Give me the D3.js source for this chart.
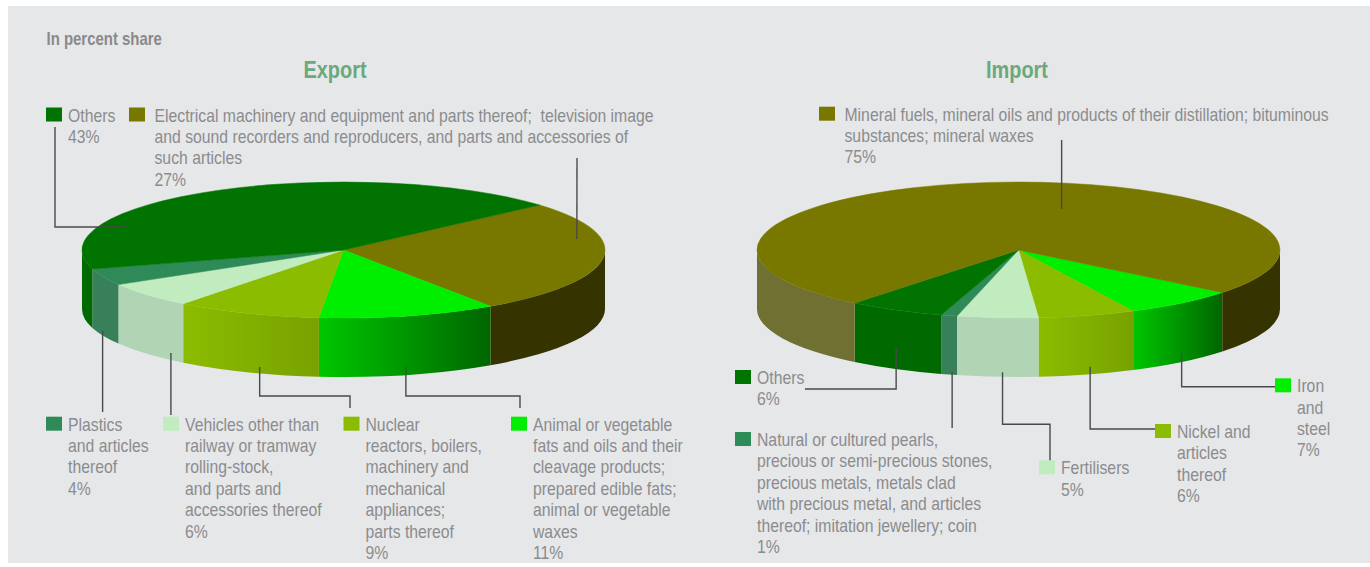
<!DOCTYPE html>
<html>
<head>
<meta charset="utf-8">
<script src="https://cdn.jsdelivr.net/npm/d3@7"></script>
<style>
  html, body { margin: 0; padding: 0; background: #ffffff; }
  svg { display: block; }
  svg text { white-space: pre; }
</style>
</head>
<body>
<svg id="chart" width="1370" height="567"></svg>
<script>
// ---- Data (shares in percent, listed clockwise around each pie) ----
const exportKeys = ["electrical", "animal", "nuclear", "vehicles", "plastics", "others"];
const exportValues = [27, 11, 9, 6, 4, 43];
const exportLabels = [
  ["Electrical machinery and equipment and parts thereof;  television image",
   "and sound recorders and reproducers, and parts and accessories of",
   "such articles"],
  ["Animal or vegetable", "fats and oils and their", "cleavage products;",
   "prepared edible fats;", "animal or vegetable", "waxes"],
  ["Nuclear", "reactors, boilers,", "machinery and", "mechanical", "appliances;", "parts thereof"],
  ["Vehicles other than", "railway or tramway", "rolling-stock,", "and parts and", "accessories thereof"],
  ["Plastics", "and articles", "thereof"],
  ["Others"]
];

const importKeys = ["iron", "nickel", "fertilisers", "pearls", "others", "mineral"];
const importValues = [7, 6, 5, 1, 6, 75];
const importLabels = [
  ["Iron", "and", "steel"],
  ["Nickel and", "articles", "thereof"],
  ["Fertilisers"],
  ["Natural or cultured pearls,", "precious or semi-precious stones,", "precious metals, metals clad",
   "with precious metal, and articles", "thereof; imitation jewellery; coin"],
  ["Others"],
  ["Mineral fuels, mineral oils and products of their distillation; bituminous",
   "substances; mineral waxes"]
];

const titles = ["Export", "Import"];
const subtitle = "In percent share";

// ---- Styles ----
const palette = {
  others:      { top: "#007300", side: ["#006a00", "#006a00"] },
  electrical:  { top: "#787800", side: ["#353300", "#353300"], sideLeft: ["#6f7032", "#6f7032"] },
  mineral:     { top: "#787800", side: ["#353300", "#353300"], sideLeft: ["#6f7032", "#6f7032"] },
  animal:      { top: "#00ee00", side: ["#00c600", "#006600"] },
  iron:        { top: "#00ee00", side: ["#00c600", "#006600"] },
  nuclear:     { top: "#8cbc00", side: ["#8cbc00", "#78a200"] },
  nickel:      { top: "#8cbc00", side: ["#8cbc00", "#78a200"] },
  vehicles:    { top: "#c0ecc0", side: ["#b0d4b4", "#b0d4b4"] },
  fertilisers: { top: "#c0ecc0", side: ["#b0d4b4", "#b0d4b4"] },
  plastics:    { top: "#2e8b57", side: ["#38805a", "#38805a"] },
  pearls:      { top: "#2e8b57", side: ["#38805a", "#38805a"] }
};

const textColor = "#8b8c8e";
const titleColor = "#6aa97b";
const leaderColor = "#4a4a4a";

// ---- Font choice: a condensed sans if installed, else a narrowed regular sans ----
function fontInstalled(name) {
  const ctx = document.createElement("canvas").getContext("2d");
  const s = "Others mmmwwwiiilll 0123456789";
  let differs = false;
  ["monospace", "serif"].forEach(fb => {
    ctx.font = "40px " + fb;
    const a = ctx.measureText(s).width;
    ctx.font = "40px '" + name + "', " + fb;
    const b = ctx.measureText(s).width;
    if (Math.abs(a - b) > 0.5) differs = true;
  });
  return differs;
}
const narrow = fontInstalled("Liberation Sans Narrow");
const fontFamily = narrow ? "'Liberation Sans Narrow', 'Arial Narrow', sans-serif"
                          : "'Liberation Sans', Arial, sans-serif";
const squeeze = narrow ? 1 : 0.83;

// ---- Layout ----
const W = 1370, H = 567;
const svg = d3.select("#chart");
const defs = svg.append("defs");

svg.append("rect").attr("x", 8).attr("y", 6).attr("width", W - 8).attr("height", 557)
  .attr("fill", "#e6e7e9");

const lineH = 21.4;

function textBlock(x, y, lines, opts = {}) {
  const g = svg.append("g")
    .attr("transform", `translate(${x},${y}) scale(${squeeze},1)`);
  const t = g.append("text")
    .attr("font-family", fontFamily)
    .attr("font-size", opts.size || 19)
    .attr("font-weight", opts.weight || "normal")
    .attr("fill", opts.fill || textColor)
    .attr("text-anchor", opts.anchor || "start");
  lines.forEach((ln, i) => {
    t.append("tspan").attr("x", 0).attr("y", i * (opts.lh || lineH)).text(ln);
  });
  return g;
}

// Pie geometry (shared by both pies)
const rx = 261.5, ry = 68, depth = 59, cy = 250;

const pies = [
  {
    keys: exportKeys, values: exportValues, labels: exportLabels, title: titles[0],
    cx: 343.5, titleX: 335, start: 48.6,
    // legend item: square + text position; leader: anchor on the pie then waypoints
    legend: {
      electrical: { x: 129, y: 121.5, anchor: { a: -10.3, r: 0.907, z: 0 }, path: [[577, 158]] },
      others:     { x: 46,  y: 121.5, anchor: { a: 202, r: 0.9, z: 0 }, path: [[55, 227], [55, 127]] },
      plastics:   { x: 46,  y: 430.7, anchor: { a: 157.1, r: 1, z: 0.92 }, path: [[null, 412]] },
      vehicles:   { x: 163, y: 430.7, anchor: { a: 131.3, r: 1, z: 0.88 }, path: [[null, 415]] },
      nuclear:    { x: 343.5, y: 430.7, anchor: { a: 108.7, r: 1, z: 0.89 }, path: [[null, 396], [350, 396], [350, 408]] },
      animal:     { x: 511, y: 430.7, anchor: { a: 76.2, r: 1, z: 0.86 }, path: [[null, 396], [520, 396], [520, 408]] }
    }
  },
  {
    keys: importKeys, values: importValues, labels: importLabels, title: titles[1],
    cx: 1018.5, titleX: 1017, start: 128.8,
    legend: {
      mineral:     { x: 819, y: 120.7, anchor: { a: -74.7, r: 0.625, z: 0 }, path: [[null, 140]] },
      others:      { x: 735, y: 384, anchor: { a: 117.9, r: 1, z: 0.63 }, path: [[null, 389], [805, 389]] },
      pearls:      { x: 735, y: 446, anchor: { a: 104.7, r: 1, z: 0.95 }, path: [[null, 428]] },
      fertilisers: { x: 1039, y: 474.3, anchor: { a: 93.5, r: 1, z: 0.92 }, path: [[null, 424.3], [1050, 424.3], [1050, 463]] },
      nickel:      { x: 1155, y: 438, anchor: { a: 74.1, r: 1, z: 0.87 }, path: [[null, 429], [1155, 429]] },
      iron:        { x: 1275, y: 392.3, anchor: { a: 51.4, r: 1, z: 0.85 }, path: [[null, 386.7], [1275, 386.7]] }
    }
  }
];

// Subtitle
textBlock(46.5, 45, [subtitle], { size: 18, weight: "bold", fill: "#8a8a8a" });

const rad = d => d * Math.PI / 180;
let gradId = 0;

pies.forEach(p => {
  const cx = p.cx;
  const pt = (theta, r = 1, z = 0) => [cx + r * rx * Math.cos(theta), cy + r * ry * Math.sin(theta) + z * depth];

  // Title
  textBlock(p.titleX, 78, [p.title], { size: 24, weight: "bold", fill: titleColor, anchor: "middle" });

  const arcs = d3.pie().sort(null).value(d => d)
    .startAngle(rad(p.start)).endAngle(rad(p.start) + 2 * Math.PI)(p.values);

  const gSide = svg.append("g");
  const gTop = svg.append("g");

  arcs.forEach((d, i) => {
    const key = p.keys[i];
    const st = palette[key];
    // d3 angles are measured from 12 o'clock; convert to screen angles from 3 o'clock
    const t0 = d.startAngle - Math.PI / 2, t1 = d.endAngle - Math.PI / 2;

    // Outer wall: only the parts facing the viewer (screen angles 0..pi)
    for (let k = -1; k <= 2; k++) {
      const lo = Math.max(t0, 2 * Math.PI * k), hi = Math.min(t1, 2 * Math.PI * k + Math.PI);
      if (hi <= lo) continue;
      const a = pt(lo), b = pt(hi);
      const path = `M${a[0]},${a[1]} A${rx},${ry} 0 0 1 ${b[0]},${b[1]} ` +
                   `L${b[0]},${b[1] + depth} A${rx},${ry} 0 0 0 ${a[0]},${a[1] + depth} Z`;
      const onLeft = (a[0] + b[0]) / 2 < cx;
      const cols = (onLeft && st.sideLeft) ? st.sideLeft : st.side;
      const id = "sideGrad" + (gradId++);
      const lg = defs.append("linearGradient").attr("id", id)
        .attr("gradientUnits", "userSpaceOnUse")
        .attr("x1", b[0]).attr("y1", 0).attr("x2", a[0]).attr("y2", 0);
      lg.append("stop").attr("offset", 0).attr("stop-color", cols[0]);
      lg.append("stop").attr("offset", 1).attr("stop-color", cols[1]);
      gSide.append("path").attr("d", path).attr("fill", `url(#${id})`);
    }

    // Top face
    const a = pt(t0), b = pt(t1);
    const large = (t1 - t0) > Math.PI ? 1 : 0;
    gTop.append("path")
      .attr("d", `M${cx},${cy} L${a[0]},${a[1]} A${rx},${ry} 0 ${large} 1 ${b[0]},${b[1]} Z`)
      .attr("fill", st.top)
      .attr("stroke", st.top).attr("stroke-width", 0.5);
  });

  // Legend entries and leader lines
  const gLead = svg.append("g");
  p.keys.forEach((key, i) => {
    const L = p.legend[key];
    const st = palette[key];
    const an = L.anchor;
    const start = pt(rad(an.a), an.r, an.z);
    const pts = [start];
    L.path.forEach(q => pts.push([q[0] === null ? start[0] : q[0], q[1]]));
    gLead.append("path")
      .attr("d", d3.line()(pts))
      .attr("fill", "none").attr("stroke", leaderColor).attr("stroke-width", 1.4);

    svg.append("rect").attr("x", L.x).attr("y", L.y - 14)
      .attr("width", 16).attr("height", 14).attr("fill", st.top);
    textBlock(L.x + (key === "electrical" || key === "mineral" ? 25.5 : 22), L.y,
      p.labels[i].concat([p.values[i] + "%"]));
  });
});
</script>
</body>
</html>
